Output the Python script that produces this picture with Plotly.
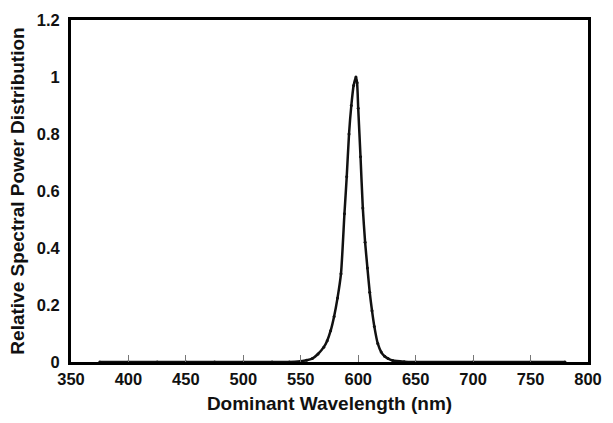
import plotly.graph_objects as go

wavelength = [375, 400, 425, 450, 475, 500, 525, 540, 550, 555, 560, 565, 570, 573,
              576, 579, 582, 585, 588, 590, 592, 594, 596, 598, 599, 600, 602, 604,
              606, 608, 610, 612, 614, 617, 620, 623, 626, 630, 640, 650, 700, 750, 780]
power = [0, 0, 0, 0, 0, 0, 0, 0, 0.003, 0.006, 0.012, 0.028, 0.052, 0.075,
         0.11, 0.16, 0.225, 0.31, 0.52, 0.65, 0.80, 0.90, 0.97, 1.0, 0.98, 0.89, 0.72, 0.54,
         0.42, 0.33, 0.245, 0.18, 0.125, 0.065, 0.035, 0.02, 0.012, 0.005, 0.001, 0, 0, 0, 0]

x_ticks = [350, 400, 450, 500, 550, 600, 650, 700, 750, 800]
y_ticks = [0, 0.2, 0.4, 0.6, 0.8, 1, 1.2]
y_labels = ["0", "0.2", "0.4", "0.6", "0.8", "1", "1.2"]

font = "Liberation Sans, Arial, sans-serif"

fig = go.Figure()
fig.add_trace(go.Scatter(
    x=wavelength, y=power, mode="lines+markers",
    line=dict(color="#111111", width=2.5, shape="spline", smoothing=0.6),
    marker=dict(color="#111111", size=3),
    showlegend=False,
))

fig.update_layout(
    width=613, height=423,
    margin=dict(l=71, r=16, t=11, b=61),
    paper_bgcolor="white", plot_bgcolor="white",
    font=dict(family=font, size=17, color="#111111"),
)
fig.update_xaxes(
    range=[350, 800], tickvals=x_ticks, ticktext=[str(v) for v in x_ticks],
    showgrid=False, zeroline=False,
    showline=True, linecolor="black", linewidth=3, mirror=True,
    ticks="inside", ticklen=7, tickcolor="#777777", tickwidth=1,
    tickfont=dict(family=font, size=16.5, color="#111111", weight="bold"),
    title=dict(text="<b>Dominant Wavelength (nm)</b>", standoff=10,
               font=dict(family=font, size=19, color="#111111")),
)
fig.update_yaxes(
    range=[0, 1.2], tickvals=y_ticks, ticktext=y_labels,
    showgrid=False, zeroline=False,
    showline=True, linecolor="black", linewidth=3, mirror=True,
    ticks="", ticklabelstandoff=5,
    tickfont=dict(family=font, size=16.5, color="#111111", weight="bold"),
    title=dict(text="<b>Relative Spectral Power Distribution</b>", standoff=8,
               font=dict(family=font, size=19, color="#111111")),
)

fig.write_html("out.html")
